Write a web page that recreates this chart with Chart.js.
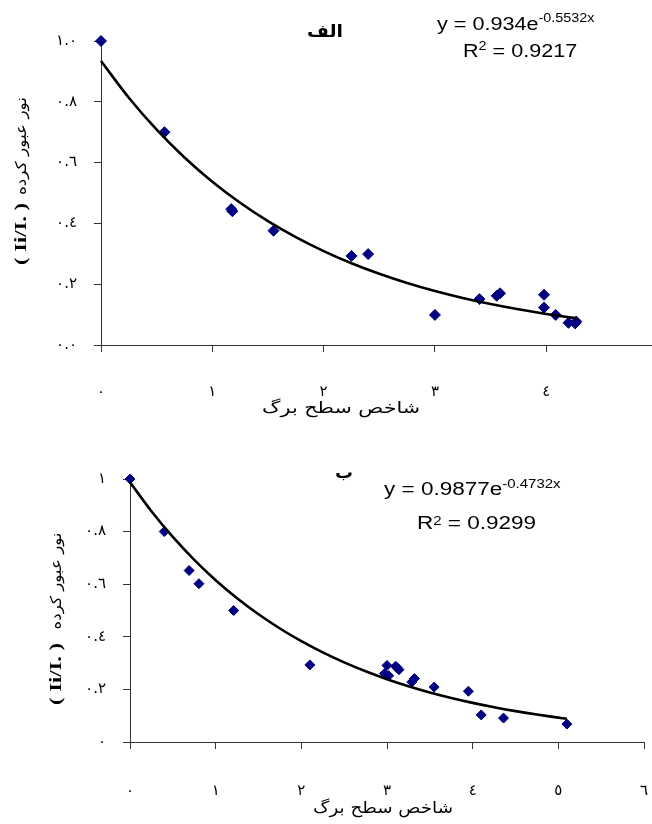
<!DOCTYPE html>
<html>
<head>
<meta charset="utf-8">
<script src="https://cdn.jsdelivr.net/npm/chart.js@4.4.1/dist/chart.umd.min.js"></script>
<style>
  html, body { margin: 0; padding: 0; background: #fff; }
  body { width: 652px; height: 824px; position: relative; overflow: hidden; }
  canvas { position: absolute; left: 0; }
  #cA { top: 0; }
  #cB { top: 430px; }
</style>
</head>
<body>
<canvas id="cA" width="652" height="430"></canvas>
<canvas id="cB" width="652" height="394"></canvas>
<script>
// ---------- Data: chart الف ----------
const pointsXA = [0, 0.57, 1.17, 1.18, 1.55, 2.25, 2.40, 3.00, 3.40, 3.555, 3.585, 3.98, 3.98, 4.085, 4.20, 4.26, 4.27];
const pointsYA = [1.00, 0.70, 0.447, 0.440, 0.376, 0.293, 0.299, 0.099, 0.151, 0.162, 0.170, 0.165, 0.123, 0.099, 0.073, 0.071, 0.077];
const trendXA = [0, 0.25, 0.5, 0.75, 1, 1.25, 1.5, 1.75, 2, 2.25, 2.5, 2.75, 3, 3.25, 3.5, 3.75, 4, 4.28];
const trendYA = [0.934, 0.8133, 0.7083, 0.6168, 0.5371, 0.4678, 0.4073, 0.3547, 0.3089, 0.2690, 0.2342, 0.2040, 0.1776, 0.1547, 0.1347, 0.1173, 0.1022, 0.0875];
const xTickLabelsA = ['٠', '١', '٢', '٣', '٤'];
const yTickLabelsA = ['٠.٠', '٠.٢', '٠.٤', '٠.٦', '٠.٨', '١.٠'];

// ---------- Data: chart ب ----------
const pointsXB = [0, 0.40, 0.69, 0.805, 1.21, 2.10, 2.97, 3.00, 3.02, 3.10, 3.14, 3.12, 3.29, 3.32, 3.55, 3.95, 4.10, 4.36, 5.10];
const pointsYB = [1.00, 0.80, 0.652, 0.602, 0.50, 0.293, 0.26, 0.291, 0.252, 0.288, 0.275, 0.282, 0.228, 0.241, 0.209, 0.193, 0.103, 0.091, 0.068];
const trendXB = [0, 0.25, 0.5, 0.75, 1, 1.25, 1.5, 1.75, 2, 2.25, 2.5, 2.75, 3, 3.25, 3.5, 3.75, 4, 4.25, 4.5, 4.75, 5, 5.1];
const trendYB = [0.9877, 0.8775, 0.7796, 0.6926, 0.6153, 0.5467, 0.4857, 0.4315, 0.3833, 0.3406, 0.3026, 0.2688, 0.2389, 0.2122, 0.1885, 0.1675, 0.1488, 0.1322, 0.1175, 0.1044, 0.0927, 0.0884];
const xTickLabelsB = ['٠', '١', '٢', '٣', '٤', '٥', '٦'];
const yTickLabelsB = ['٠', '٠.٢', '٠.٤', '٠.٦', '٠.٨', '١'];

// ---------- Texts ----------
const titleA = 'الف';
const titleB = 'ب';
const xTitle = 'شاخص سطح برگ';
const yTitleArabic = 'نور عبور کرده';
const yTitleLatin = '( Ii/I. )';
const eqA = { main: 'y = 0.934e', sup: '-0.5532x', r: '0.9217' };
const eqB = { main: 'y = 0.9877e', sup: '-0.4732x', r: '0.9299' };

const zip = (xs, ys) => xs.map((x, i) => ({ x, y: ys[i] }));

function drawFit(ctx, text, font, cx, cy, w, rot) {
  ctx.save();
  ctx.font = font;
  const m = ctx.measureText(text).width;
  ctx.translate(cx, cy);
  if (rot) ctx.rotate(rot);
  ctx.scale(w / m, 1);
  ctx.textAlign = 'center';
  ctx.textBaseline = 'middle';
  ctx.fillStyle = '#000';
  ctx.fillText(text, 0, 0);
  ctx.restore();
}

function drawEquation(ctx, eq, x1, b1, s1, x2, b2, s2, sx) {
  ctx.save();
  ctx.fillStyle = '#000';
  ctx.textAlign = 'left';
  ctx.textBaseline = 'alphabetic';
  ctx.save();
  ctx.translate(x1, 0); ctx.scale(sx, 1);
  ctx.font = '18px "Liberation Sans", Arial, sans-serif';
  ctx.fillText(eq.main, 0, b1);
  const w1 = ctx.measureText(eq.main).width;
  ctx.font = '12px "Liberation Sans", Arial, sans-serif';
  ctx.fillText(eq.sup, w1, s1);
  ctx.restore();
  ctx.save();
  ctx.translate(x2, 0); ctx.scale(sx, 1);
  ctx.font = '18px "Liberation Sans", Arial, sans-serif';
  ctx.fillText('R', 0, b2);
  const wR = ctx.measureText('R').width;
  ctx.font = '12px "Liberation Sans", Arial, sans-serif';
  ctx.fillText('2', wR, s2);
  const w2 = ctx.measureText('2').width;
  ctx.font = '18px "Liberation Sans", Arial, sans-serif';
  ctx.fillText(' = ' + eq.r, wR + w2, b2);
  ctx.restore();
  ctx.restore();
}

function makeConfig(opts) {
  return {
    data: {
      datasets: [
        { type: 'line', data: zip(opts.tx, opts.ty), borderColor: '#000', borderWidth: 2.6,
          pointRadius: 0, tension: 0.3, fill: false, order: 0, clip: false },
        { type: 'scatter', data: zip(opts.px, opts.py), pointStyle: 'rectRot', pointRadius: opts.pr,
          backgroundColor: '#000080', borderColor: '#000080', borderWidth: 1, order: 1, clip: false }
      ]
    },
    options: {
      responsive: false,
      animation: false,
      devicePixelRatio: 1,
      layout: { autoPadding: false, padding: { top: opts.padTop, right: opts.padRight, left: 0, bottom: 0 } },
      plugins: { legend: { display: false }, tooltip: { enabled: false } },
      scales: {
        x: {
          type: 'linear', min: 0, max: opts.xMax,
          afterBuildTicks: (s) => { s.ticks = s.ticks.filter(t => Number.isInteger(t.value)); },
          afterFit: (s) => { s.height = opts.xHeight; s.paddingLeft = 0; s.paddingRight = 0; },
          ticks: { stepSize: 1, padding: opts.xPad, color: '#000', font: { family: '"DejaVu Sans"', size: 15 },
            maxRotation: 0, callback: (v) => opts.xLabels[Math.round(v)] },
          grid: { drawOnChartArea: false, drawTicks: true, tickLength: 7, color: '#333', lineWidth: 1 },
          border: { display: true, color: '#333', width: 1 }
        },
        y: {
          type: 'linear', min: 0, max: 1,
          afterFit: (s) => { s.width = opts.yWidth; s.paddingTop = 0; s.paddingBottom = 0; },
          ticks: { stepSize: 0.2, padding: 17, color: '#000', font: { family: '"DejaVu Sans"', size: 15 },
            callback: (v) => opts.yLabels[Math.round(v * 5)] },
          grid: { drawOnChartArea: false, drawTicks: true, tickLength: 7, color: '#333', lineWidth: 1 },
          border: { display: true, color: '#333', width: 1 }
        }
      }
    },
    plugins: [{ id: 'texts', afterDraw: (chart) => opts.drawTexts(chart.ctx) }]
  };
}

new Chart(document.getElementById('cA'), makeConfig({
  tx: trendXA, ty: trendYA, px: pointsXA, py: pointsYA, pr: 5.5,
  padTop: 41, padRight: 0, xMax: 4.95, xHeight: 85, yWidth: 101, xPad: 31,
  xLabels: xTickLabelsA, yLabels: yTickLabelsA,
  drawTexts: (ctx) => {
    drawFit(ctx, titleA, 'bold 17px "DejaVu Sans"', 325, 33, 36, 0);
    drawEquation(ctx, eqA, 437, 30, 22, 463, 57, 50, 1.2);
    drawFit(ctx, xTitle, '16px "DejaVu Sans"', 341, 409, 158, 0);
    drawFit(ctx, yTitleArabic, '15px "DejaVu Sans"', 22, 146, 98, -Math.PI / 2);
    drawFit(ctx, yTitleLatin, 'bold 17px "Liberation Serif"', 22, 234, 62, -Math.PI / 2);
  }
}));

new Chart(document.getElementById('cB'), makeConfig({
  tx: trendXB, ty: trendYB, px: pointsXB, py: pointsYB, pr: 5,
  padTop: 49, padRight: 8, xMax: 6, xHeight: 82, yWidth: 130, xPad: 33,
  xLabels: xTickLabelsB, yLabels: yTickLabelsB,
  drawTexts: (ctx) => {
    drawFit(ctx, titleB, 'bold 17px "DejaVu Sans"', 344, 44, 18, 0);
    drawEquation(ctx, eqB, 384, 65, 58, 417, 99, 95, 1.25);
    drawFit(ctx, xTitle, '16px "DejaVu Sans"', 383, 379, 140, 0);
    drawFit(ctx, yTitleArabic, '15px "DejaVu Sans"', 57, 151, 97, -Math.PI / 2);
    drawFit(ctx, yTitleLatin, 'bold 17px "Liberation Serif"', 57, 244, 62, -Math.PI / 2);
  }
}));
</script>
</body>
</html>
